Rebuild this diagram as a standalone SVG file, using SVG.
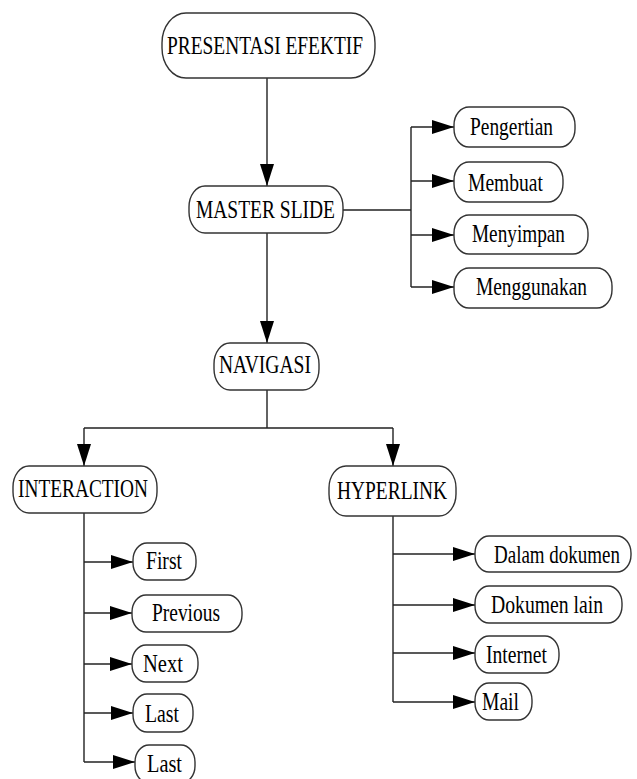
<svg xmlns="http://www.w3.org/2000/svg" width="637" height="779" viewBox="0 0 637 779">
<style>
.box{fill:#fff;stroke:#333;stroke-width:1.4}
text{font-family:"Liberation Serif","DejaVu Serif","Noto Serif",serif;font-size:25px;fill:#000}
.c{fill:none;stroke:#222;stroke-width:1.4}
</style>
<defs>
<marker id="ah" markerUnits="userSpaceOnUse" markerWidth="22" markerHeight="14" refX="22" refY="7" orient="auto">
<path d="M0,0 L22,7 L0,14 z" fill="#000"/>
</marker>
</defs>
<rect width="637" height="779" fill="#fff"/>
<g id="connectors">
<path class="c" d="M267,78 V186" marker-end="url(#ah)"/>
<path class="c" d="M267,233 V343" marker-end="url(#ah)"/>
<path class="c" d="M343,210 H411 M411,127 V287"/>
<path class="c" d="M411,127 H454" marker-end="url(#ah)"/>
<path class="c" d="M411,181 H454" marker-end="url(#ah)"/>
<path class="c" d="M411,235 H454" marker-end="url(#ah)"/>
<path class="c" d="M411,287 H454" marker-end="url(#ah)"/>
<path class="c" d="M267,390 V428 M84,428 H393"/>
<path class="c" d="M84,428 V466" marker-end="url(#ah)"/>
<path class="c" d="M393,428 V466" marker-end="url(#ah)"/>
<path class="c" d="M84,513 V762"/>
<path class="c" d="M84,562 H133" marker-end="url(#ah)"/>
<path class="c" d="M84,613 H132" marker-end="url(#ah)"/>
<path class="c" d="M84,664 H132" marker-end="url(#ah)"/>
<path class="c" d="M84,713 H133" marker-end="url(#ah)"/>
<path class="c" d="M84,762 H135" marker-end="url(#ah)"/>
<path class="c" d="M393,516 V702"/>
<path class="c" d="M393,554 H475" marker-end="url(#ah)"/>
<path class="c" d="M393,605 H475" marker-end="url(#ah)"/>
<path class="c" d="M393,653 H475" marker-end="url(#ah)"/>
<path class="c" d="M393,702 H475" marker-end="url(#ah)"/>
</g>
<g id="presentasi"><rect class="box" x="162" y="13" width="213" height="65" rx="24" ry="30"/><text x="167" y="54" textLength="196" lengthAdjust="spacingAndGlyphs">PRESENTASI EFEKTIF</text></g>
<g id="master"><rect class="box" x="189" y="186" width="154" height="47" rx="16" ry="21"/><text x="196" y="218" textLength="139" lengthAdjust="spacingAndGlyphs">MASTER SLIDE</text></g>
<g id="pengertian"><rect class="box" x="454" y="107" width="121" height="40" rx="15" ry="18"/><text x="470" y="135" textLength="83" lengthAdjust="spacingAndGlyphs">Pengertian</text></g>
<g id="membuat"><rect class="box" x="454" y="162" width="109" height="40" rx="15" ry="18"/><text x="468" y="191" textLength="75" lengthAdjust="spacingAndGlyphs">Membuat</text></g>
<g id="menyimpan"><rect class="box" x="454" y="215" width="134" height="39" rx="15" ry="18"/><text x="472" y="242" textLength="93" lengthAdjust="spacingAndGlyphs">Menyimpan</text></g>
<g id="menggunakan"><rect class="box" x="454" y="268" width="158" height="40" rx="15" ry="18"/><text x="476" y="295" textLength="111" lengthAdjust="spacingAndGlyphs">Menggunakan</text></g>
<g id="navigasi"><rect class="box" x="214" y="343" width="105" height="47" rx="16" ry="21"/><text x="219" y="373" textLength="92" lengthAdjust="spacingAndGlyphs">NAVIGASI</text></g>
<g id="interaction"><rect class="box" x="13" y="466" width="144" height="47" rx="16" ry="21"/><text x="18" y="497" textLength="130" lengthAdjust="spacingAndGlyphs">INTERACTION</text></g>
<g id="hyperlink"><rect class="box" x="329" y="466" width="127" height="50" rx="17" ry="22"/><text x="337" y="499" textLength="110" lengthAdjust="spacingAndGlyphs">HYPERLINK</text></g>
<g id="first"><rect class="box" x="133" y="543" width="63" height="37" rx="14" ry="17"/><text x="146" y="569" textLength="36" lengthAdjust="spacingAndGlyphs">First</text></g>
<g id="previous"><rect class="box" x="132" y="595" width="110" height="37" rx="14" ry="17"/><text x="152" y="621" textLength="68" lengthAdjust="spacingAndGlyphs">Previous</text></g>
<g id="next"><rect class="box" x="132" y="645" width="66" height="37" rx="14" ry="17"/><text x="143" y="672" textLength="40" lengthAdjust="spacingAndGlyphs">Next</text></g>
<g id="last1"><rect class="box" x="133" y="694" width="60" height="38" rx="14" ry="17"/><text x="145" y="722" textLength="34" lengthAdjust="spacingAndGlyphs">Last</text></g>
<g id="last2"><rect class="box" x="135" y="745" width="60" height="38" rx="14" ry="17"/><text x="147" y="772" textLength="35" lengthAdjust="spacingAndGlyphs">Last</text></g>
<g id="dalam"><rect class="box" x="475" y="536" width="156" height="36" rx="14" ry="17"/><text transform="translate(494,563) scale(0.76,1)" x="0" y="0">Dalam dokumen</text></g>
<g id="dokumenlain"><rect class="box" x="475" y="586" width="147" height="37" rx="14" ry="17"/><text x="491" y="613" textLength="112" lengthAdjust="spacingAndGlyphs">Dokumen lain</text></g>
<g id="internet"><rect class="box" x="475" y="636" width="84" height="37" rx="14" ry="17"/><text x="486" y="663" textLength="61" lengthAdjust="spacingAndGlyphs">Internet</text></g>
<g id="mail"><rect class="box" x="475" y="683" width="57" height="37" rx="14" ry="17"/><text x="482" y="710" textLength="37" lengthAdjust="spacingAndGlyphs">Mail</text></g>
</svg>
